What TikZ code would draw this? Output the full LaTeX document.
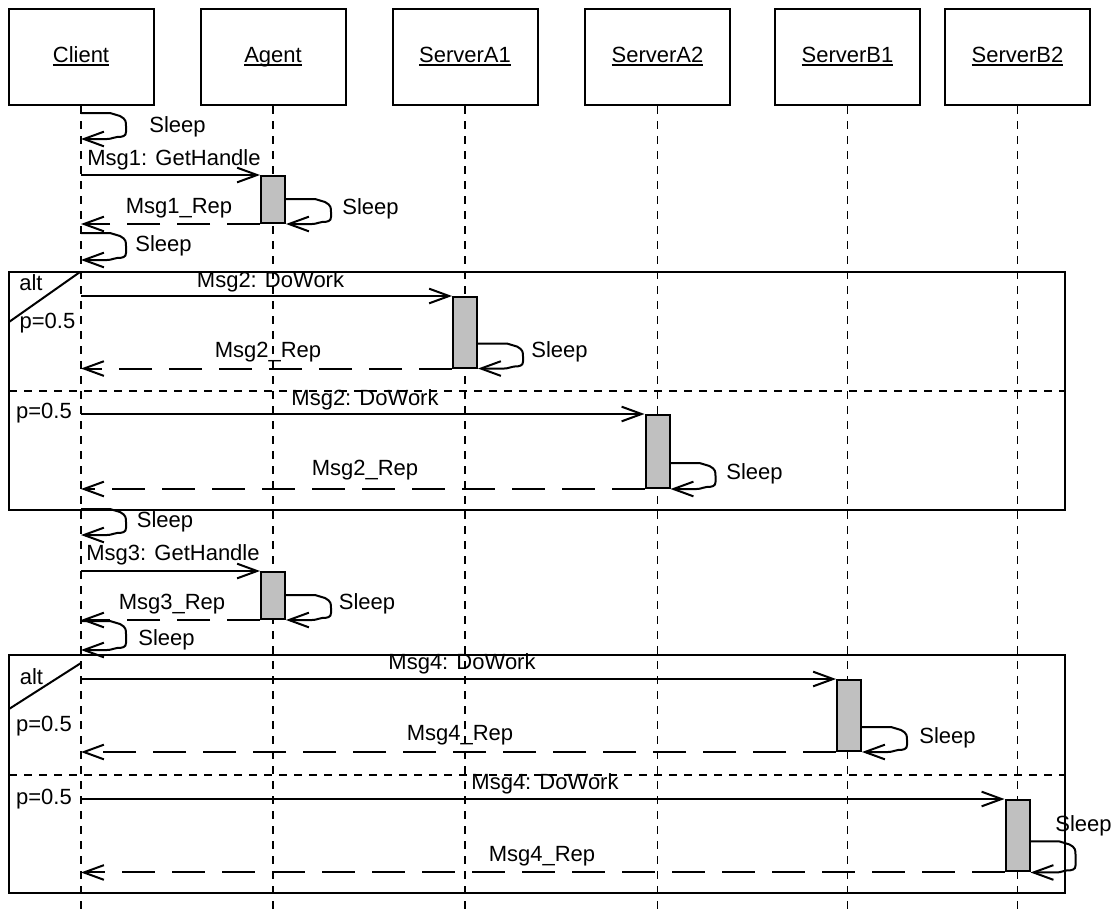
\documentclass[tikz,border=0pt]{standalone}
\usepackage{fontspec}
\setmainfont{Liberation Sans}
\usetikzlibrary{arrows.meta}
\definecolor{barfill}{RGB}{192,192,192}
% underline at a fixed distance below the baseline, whatever the descenders
\newcommand\namerule[1]{\setbox0\hbox{#1}\rlap{\rule[-2.4pt]{\wd0}{1.1pt}}\box0}

\begin{document}
\begin{tikzpicture}[x=0.75pt,y=-0.75pt,
  every node/.style={font=\fontsize{16.5}{19}\selectfont, inner sep=0pt},
  head/.style={draw, line width=1.5pt, minimum width=108.75pt, minimum height=72pt,
    text height=12pt, text depth=3.5pt},
  lifeline/.style={line width=1.3pt, dash pattern=on 6pt off 5.25pt},
  actbar/.style={draw, fill=barfill, line width=1.5pt, minimum width=18pt, anchor=north},
  call/.style={line width=1.5pt, -{Straight Barb[length=15pt,width=11pt]}},
  reply/.style={call, dash pattern=on 24.75pt off 12.75pt},
  framebox/.style={line width=1.5pt},
  divider/.style={line width=1.3pt, dash pattern=on 6pt off 5.25pt},
  pics/sleeploop/.style={code={
    \draw[call] (0,0) -- (29,0) -- (39,3)
      .. controls (45,6) and (45,9) .. (45,13) -- (45,#1-7)
      .. controls (45,#1-3) and (42,#1-2) .. (36,#1-2)
      .. controls (33,#1-2) and (31,#1) .. (26,#1) -- (0,#1);}}
]
\useasboundingbox (0,0) rectangle (1117,911);
\coordinate (bottom) at (0,911);

% combined fragments
\draw[framebox] (9,272) rectangle (1065,510);
\draw[framebox] (80,272) -- (9,322);
\draw[divider] (9,391) -- (1065,391);
\draw[framebox] (9,655) rectangle (1065,893);
\draw[framebox] (81,663) -- (9,709);
\draw[divider] (9,775) -- (1065,775);
\node (alt1) at (31,283) {alt};
\node (alt2) at (31.5,677) {alt};
\node (g1) at (47.5,323) {p=0.5};
\node (g2) at (44,413) {p=0.5};
\node (g3) at (44,726) {p=0.5};
\node (g4) at (44,799) {p=0.5};

% participants and lifelines
\node[head] (client) at (81,57) {\namerule{Client}};
\node[head] (agent) at (273,57) {\namerule{Agent}};
\node[head] (sa1) at (465,57) {\namerule{ServerA1}};
\node[head] (sa2) at (657.5,57) {\namerule{ServerA2}};
\node[head] (sb1) at (847.5,57) {\namerule{ServerB1}};
\node[head] (sb2) at (1017.5,57) {\namerule{ServerB2}};
\foreach \p in {client,agent,sa1,sa2,sb1,sb2}
  \draw[lifeline] (\p.south) -- (\p.south |- bottom);

% activation bars
\node[actbar, minimum height=35.25pt] (act1) at (273,175) {};
\node[actbar, minimum height=52.9pt] (act2) at (465,296) {};
\node[actbar, minimum height=54.75pt] (act3) at (657.5,414) {};
\node[actbar, minimum height=35.25pt] (act4) at (273,571) {};
\node[actbar, minimum height=53.25pt] (act5) at (849,679) {};
\node[actbar, minimum height=53.6pt] (act6) at (1017.5,799) {};

% client sleeps
\pic at (client |- 0,113) {sleeploop=26};
\node (s1) at (177.5,127) {Sleep};
\pic at (client |- 0,233) {sleeploop=27};
\node (s2) at (163.5,246) {Sleep};
\pic at (client |- 0,509) {sleeploop=26};
\node (s3) at (165,522) {Sleep};
\pic at (client |- 0,621) {sleeploop=29};
\node (s4) at (166.5,640) {Sleep};

% Msg1
\draw[call] (client |- act1.north) -- (act1.north west);
\node (m1) at (174,160) {Msg1: GetHandle};
\pic at ([yshift=18.75pt]act1.south east) {sleeploop=25};
\node (s5) at (370.5,209) {Sleep};
\draw[reply] (act1.south west) -- (client |- act1.south);
\node (r1) at (179,208) {Msg1\_Rep};

% Msg2 via ServerA1
\draw[call] (client |- act2.north) -- (act2.north west);
\node (m2) at (270.5,282) {Msg2: DoWork};
\pic at ([yshift=18.75pt]act2.south east) {sleeploop=25};
\node (s6) at (559.5,352) {Sleep};
\draw[reply] (act2.south west) -- (client |- act2.south);
\node (r2) at (268,352) {Msg2\_Rep};

% Msg2 via ServerA2
\draw[call] (client |- act3.north) -- (act3.north west);
\node (m3) at (365,400) {Msg2: DoWork};
\pic at ([yshift=19.5pt]act3.south east) {sleeploop=26};
\node (s7) at (754.5,474) {Sleep};
\draw[reply] (act3.south west) -- (client |- act3.south);
\node (r3) at (365,470) {Msg2\_Rep};

% Msg3
\draw[call] (client |- act4.north) -- (act4.north west);
\node (m4) at (173,555) {Msg3: GetHandle};
\pic at ([yshift=18.75pt]act4.south east) {sleeploop=25};
\node (s8) at (367,604) {Sleep};
\draw[reply] (act4.south west) -- (client |- act4.south);
\node (r4) at (172,604) {Msg3\_Rep};

% Msg4 via ServerB1
\draw[call] (client |- act5.north) -- (act5.north west);
\node (m5) at (462,664) {Msg4: DoWork};
\pic at ([yshift=18.75pt]act5.south east) {sleeploop=25};
\node (s9) at (947.5,738) {Sleep};
\draw[reply] (act5.south west) -- (client |- act5.south);
\node (r5) at (460,735) {Msg4\_Rep};

% Msg4 via ServerB2
\draw[call] (client |- act6.north) -- (act6.north west);
\node (m6) at (545,784) {Msg4: DoWork};
\pic at ([yshift=23.25pt]act6.south east) {sleeploop=31};
\node (s10) at (1083.5,826) {Sleep};
\draw[reply] (act6.south west) -- (client |- act6.south);
\node (r6) at (542,856) {Msg4\_Rep};
\end{tikzpicture}
\end{document}
